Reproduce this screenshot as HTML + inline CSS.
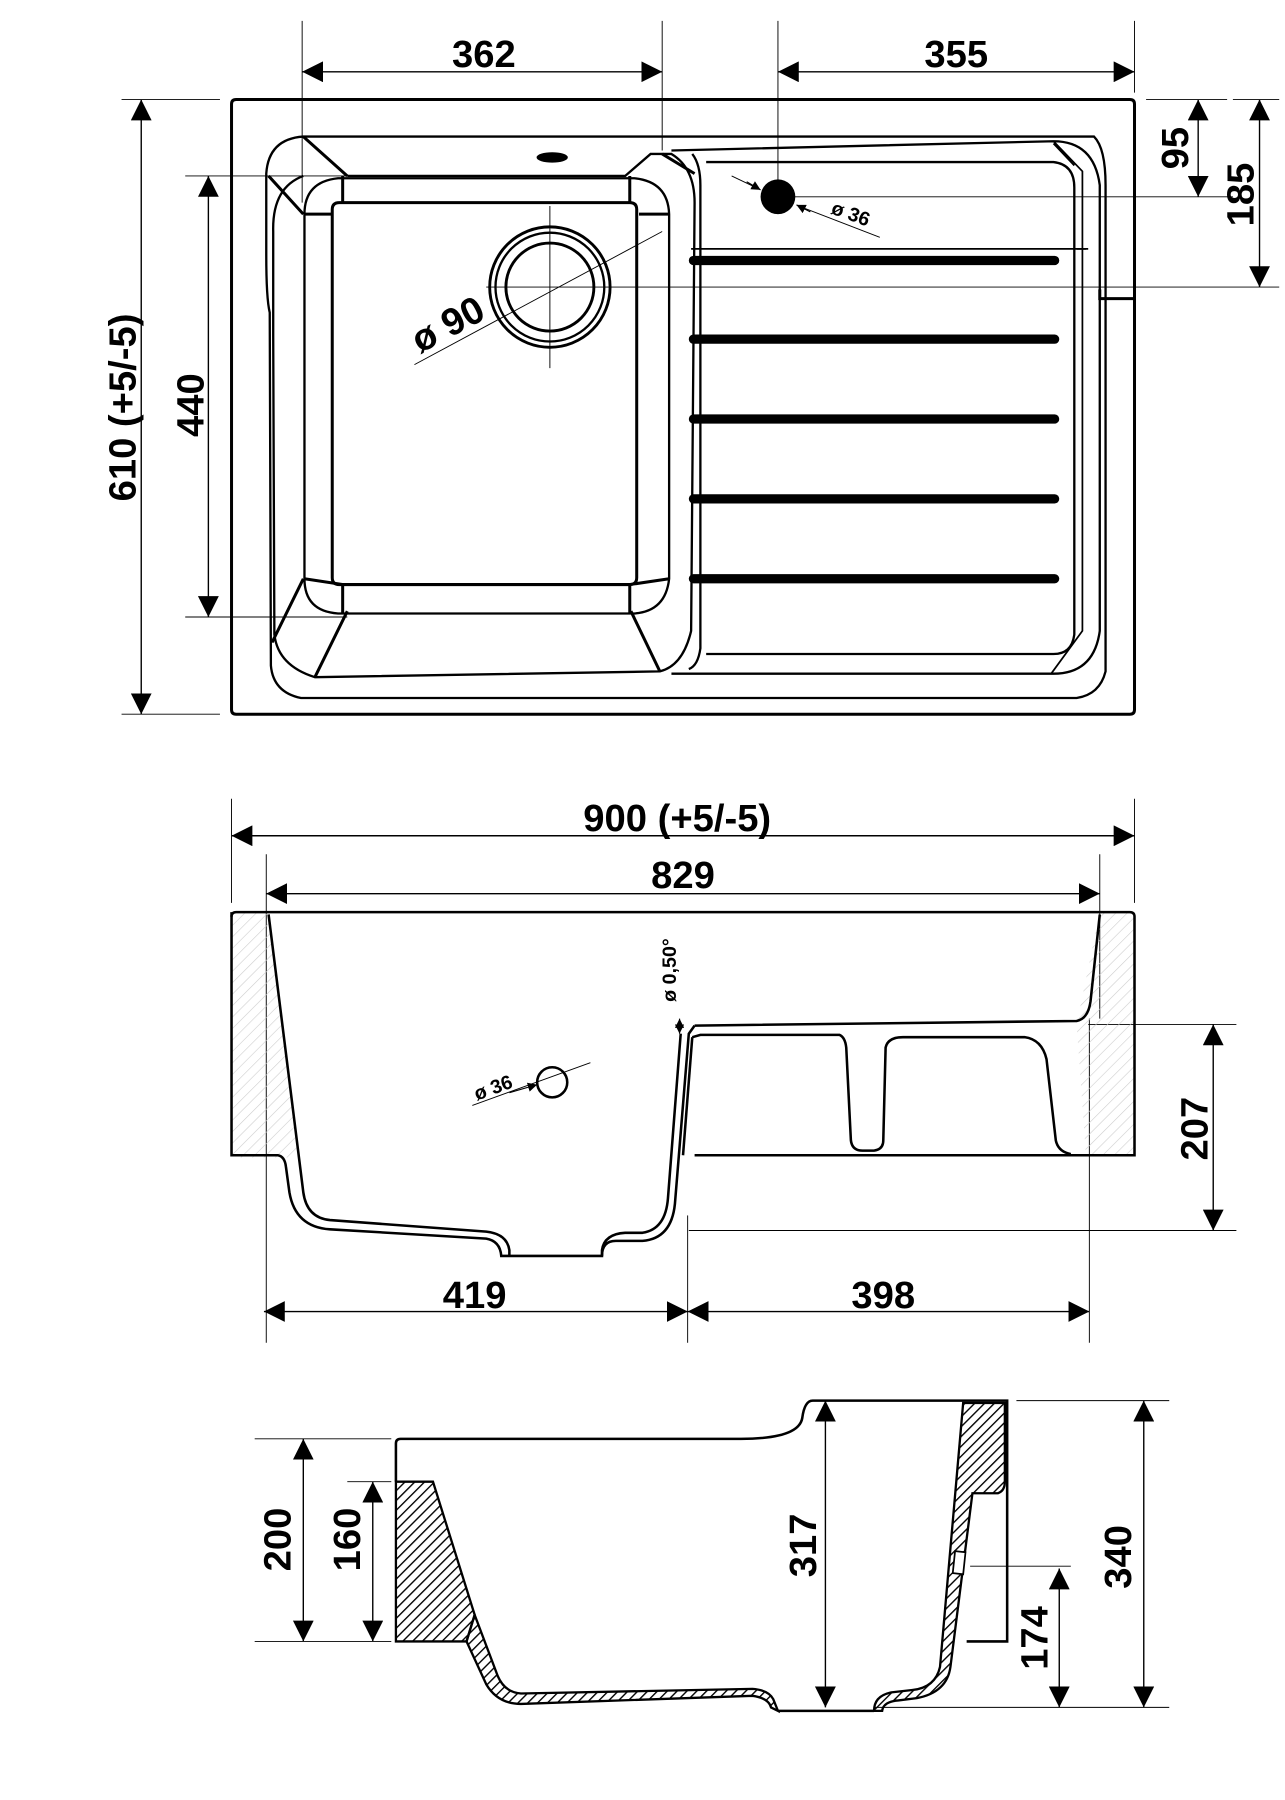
<!DOCTYPE html>
<html><head><meta charset="utf-8"><style>
html,body{margin:0;padding:0;background:#fff;width:1285px;height:1800px;overflow:hidden}
svg{display:block}
text{font-family:"Liberation Sans",sans-serif;font-weight:bold;fill:#000}
</style></head><body>
<svg width="1285" height="1800" viewBox="0 0 1110 1555" preserveAspectRatio="none" xmlns="http://www.w3.org/2000/svg">
<defs>
<marker id="a" viewBox="0 0 10 10" refX="10" refY="5" markerWidth="18" markerHeight="18" markerUnits="userSpaceOnUse" orient="auto-start-reverse"><path d="M0,0 L10,5 L0,10 z" fill="#000"/></marker>
<marker id="s" viewBox="0 0 10 10" refX="10" refY="5" markerWidth="8" markerHeight="8" markerUnits="userSpaceOnUse" orient="auto-start-reverse"><path d="M0,0 L10,5 L0,10 z" fill="#000"/></marker>
<pattern id="h" patternUnits="userSpaceOnUse" width="6" height="6" patternTransform="rotate(45)"><line x1="0" y1="0" x2="0" y2="6" stroke="#000" stroke-width="2.4"/></pattern>
<pattern id="hl" patternUnits="userSpaceOnUse" width="7" height="7" patternTransform="rotate(45)"><line x1="0" y1="0" x2="0" y2="7" stroke="#ccc" stroke-width="1"/></pattern>
</defs>
<g stroke="#000" fill="none">
<!-- ===== TOP VIEW ===== -->
<g stroke-width="0.8">
<line x1="261" y1="18" x2="261" y2="175"/><line x1="572" y1="18" x2="572" y2="130"/>
<line x1="672" y1="18" x2="672" y2="185"/><line x1="980" y1="18" x2="980" y2="80"/>
<line x1="105" y1="86" x2="190" y2="86"/><line x1="105" y1="617" x2="190" y2="617"/>
<line x1="160" y1="152" x2="300" y2="152"/><line x1="160" y1="533" x2="300" y2="533"/>
<line x1="990" y1="86" x2="1060" y2="86"/><line x1="1065" y1="86" x2="1105" y2="86"/>
<line x1="680" y1="170" x2="1065" y2="170"/><line x1="420" y1="248" x2="1105" y2="248"/>
<line x1="475" y1="178" x2="475" y2="318"/>
<line x1="358" y1="315" x2="572" y2="200"/>
<line x1="632" y1="152" x2="655" y2="163"/><line x1="690" y1="178" x2="760" y2="205"/>
</g>
<g stroke-width="1.2" marker-start="url(#a)" marker-end="url(#a)">
<line x1="261" y1="62" x2="572" y2="62"/>
<line x1="672" y1="62" x2="980" y2="62"/>
<line x1="122" y1="86" x2="122" y2="617"/>
<line x1="180" y1="152" x2="180" y2="533"/>
<line x1="1088" y1="86" x2="1088" y2="248"/>
</g>
<line x1="1035" y1="86" x2="1035" y2="170" stroke-width="1.2" marker-start="url(#a)" marker-end="url(#a)"/>
<line x1="645" y1="157" x2="657" y2="164" stroke-width="1" marker-end="url(#s)"/>
<line x1="700" y1="183" x2="688" y2="177" stroke-width="1" marker-end="url(#s)"/>
<g stroke-width="2.6">
<path d="M200,90 Q200,86 204,86 L976,86 Q980,86 980,90 L980,613 Q980,617 976,617 L204,617 Q200,617 200,613 Z"/>
<path d="M950,250 L950,258 L980,258"/>
<path d="M262,118 L945,118 Q955,128 955,160 L955,580 Q950,600 930,603 L260,603 Q236,598 234,575 L233,270 Q230,258 230,220 L230,150 Q232,120 262,118 Z" stroke-width="2"/>
<path d="M262,118 L300,152 M232,152 L262,185 M572,133 L600,150 M235,555 L262,500 M300,528 L272,585 M545,528 L570,580"/>
<path d="M300,152 L540,152 L562,133 L580,133 Q600,145 600,175 L597,545 Q590,575 570,580 L272,585 Q240,575 237,548 L236,290 L236,200 Q235,162 262,152" stroke-width="2"/>
<path d="M263,185 Q263,157 292,154 L548,154 Q577,157 578,185 L578,500 Q575,528 548,530 L292,530 Q263,528 263,500 Z" stroke-width="2"/>
<path d="M296,152 L296,175 M544,152 L544,175 M263,500 L296,505 L296,530 M578,500 L544,505 L544,530 M263,185 L287,185 M578,185 L552,185"/>
<path d="M287,181 Q287,175 293,175 L544,175 Q550,175 550,181 L550,499 Q550,505 544,505 L293,505 Q287,505 287,499 Z"/>
<path d="M580,130 L910,122 Q945,122 950,160 L950,545 Q945,582 910,582 L580,582" stroke-width="2"/>
<path d="M598,133 Q605,142 605,160 L605,560 Q603,575 595,578 M610,140 L910,140 Q928,142 928,162 L928,548 Q926,565 910,565 L610,565" stroke-width="2"/>
<path d="M910,122 L935,148 L935,545 L908,582 M930,215 L940,215 M910,124 L928,143" stroke-width="1.5"/>
<line x1="597" y1="215" x2="938" y2="215" stroke-width="1.5"/>
<circle cx="475" cy="248" r="52" stroke-width="2.5"/>
<circle cx="475" cy="248" r="47" stroke-width="2"/>
<circle cx="475" cy="248" r="38" stroke-width="2.5"/>
</g>
<ellipse cx="477" cy="136" rx="13" ry="4" fill="#000"/>
<circle cx="672" cy="170" r="15" fill="#000" stroke="none"/>
<g stroke-width="8" stroke-linecap="round">
<line x1="599" y1="225" x2="911" y2="225"/><line x1="599" y1="293" x2="911" y2="293"/>
<line x1="599" y1="362" x2="911" y2="362"/><line x1="599" y1="431" x2="911" y2="431"/>
<line x1="599" y1="500" x2="911" y2="500"/>
</g>

<!-- ===== SIDE VIEW ===== -->
<g stroke-width="0.8">
<line x1="200" y1="690" x2="200" y2="780"/><line x1="980" y1="690" x2="980" y2="780"/>
<line x1="230" y1="738" x2="230" y2="1160"/><line x1="950" y1="738" x2="950" y2="880"/>
<line x1="941" y1="880" x2="941" y2="1160"/><line x1="594" y1="1050" x2="594" y2="1160"/>
<line x1="940" y1="885" x2="1068" y2="885"/><line x1="595" y1="1063" x2="1068" y2="1063"/>
<line x1="408" y1="955" x2="510" y2="918"/>
</g>
<g stroke-width="1.2" marker-start="url(#a)" marker-end="url(#a)">
<line x1="200" y1="722" x2="980" y2="722"/>
<line x1="230" y1="772" x2="950" y2="772"/>
<line x1="1048" y1="885" x2="1048" y2="1063"/>
<line x1="228" y1="1133" x2="594" y2="1133"/>
<line x1="594" y1="1133" x2="941" y2="1133"/>
</g>
<line x1="587" y1="880" x2="587" y2="893" stroke-width="1" marker-end="url(#s)" marker-start="url(#s)"/>
<path d="M200,792 Q200,788 204,788 L231,788 L258,1000 L200,1000 Z" fill="url(#hl)" stroke="none"/>
<path d="M950,788 L976,788 Q980,788 980,792 L980,997 L938,997 L930,885 Z" fill="url(#hl)" stroke="none"/>
<g stroke-width="2.2">
<path d="M200,792 Q200,788 204,788 L976,788 Q980,788 980,792 L980,998 L600,998"/>
<path d="M200,788 L200,998 L240,998 Q246,999 247,1008 L250,1030 Q255,1060 285,1062 L420,1070 Q432,1072 433,1085 L520,1085 Q520,1072 532,1072 L555,1072 Q580,1070 583,1040 L595,893 L600,886"/>
<path d="M232,790 L262,1030 Q265,1052 285,1054 L420,1064 Q438,1066 440,1080 L440,1085 M520,1085 L520,1080 Q522,1066 540,1065 L555,1065 Q575,1062 577,1035 L588,893"/>
<path d="M600,886 L930,882 Q940,880 942,865 L950,790"/>
<path d="M598,896 L605,894 L725,894 Q730,896 731,905 L735,985 Q736,994 745,994 L755,994 Q763,993 763,985 L765,905 Q767,896 780,896 L885,896 Q900,898 904,915 L912,985 Q914,995 925,997"/>
<path d="M598,896 L590,998"/>
</g>
<circle cx="477" cy="935" r="13" stroke-width="2.2"/>
<line x1="440" y1="944" x2="464" y2="937" stroke-width="1" marker-end="url(#s)"/>

<!-- ===== SECTION VIEW ===== -->
<g stroke-width="0.8">
<line x1="220" y1="1243" x2="338" y2="1243"/><line x1="220" y1="1418" x2="338" y2="1418"/>
<line x1="300" y1="1280" x2="338" y2="1280"/>
<line x1="878" y1="1210" x2="1010" y2="1210"/><line x1="755" y1="1475" x2="1010" y2="1475"/>
<line x1="838" y1="1353" x2="925" y2="1353"/>
</g>
<g stroke-width="1.2" marker-start="url(#a)" marker-end="url(#a)">
<line x1="262" y1="1243" x2="262" y2="1418"/>
<line x1="322" y1="1280" x2="322" y2="1418"/>
<line x1="713" y1="1210" x2="713" y2="1475"/>
<line x1="988" y1="1210" x2="988" y2="1475"/>
<line x1="915" y1="1355" x2="915" y2="1475"/>
</g>
<path d="M342,1280 L374,1280 L410,1395 L403,1418 L342,1418 Z" fill="url(#h)" stroke-width="2"/>
<path d="M403,1418 L420,1455 Q430,1472 450,1472 L650,1465 Q664,1467 666,1475 L672,1478 L668,1468 Q664,1460 650,1459 L450,1463 Q436,1462 430,1448 L410,1395 Z" fill="url(#h)" stroke-width="2"/>
<path d="M832,1212 L812,1440 Q808,1458 788,1460 L770,1462 Q755,1465 755,1478 L762,1478 Q763,1470 776,1469 L792,1467 Q818,1462 821,1440 L840,1290 L862,1290 Q868,1288 868,1280 L868,1212 Z" fill="url(#h)" stroke-width="2"/>
<path d="M825,1340 L834,1341 L832,1360 L823,1359 Z" fill="#fff" stroke-width="1.5"/>
<g stroke-width="2.2">
<path d="M342,1280 L342,1247 Q342,1243 346,1243 L640,1243 Q690,1243 693,1225 Q695,1210 702,1210 L870,1210 L870,1418 L835,1418"/>
<path d="M672,1478 L755,1478"/>
</g>
</g>

<!-- ===== TEXT ===== -->
<g font-size="33">
<text x="418" y="58" text-anchor="middle">362</text>
<text x="826" y="58" text-anchor="middle">355</text>
<text transform="translate(117 352) rotate(-90)" text-anchor="middle">610  (+5/-5)</text>
<text transform="translate(176 350) rotate(-90)" text-anchor="middle">440</text>
<text transform="translate(1026 128) rotate(-90)" text-anchor="middle">95</text>
<text transform="translate(1083 168) rotate(-90)" text-anchor="middle">185</text>
<text transform="translate(392 290) rotate(-28)" text-anchor="middle">ø 90</text>
<text x="585" y="718" text-anchor="middle">900  (+5/-5)</text>
<text x="590" y="767" text-anchor="middle">829</text>
<text transform="translate(1043 975) rotate(-90)" text-anchor="middle">207</text>
<text x="410" y="1130" text-anchor="middle">419</text>
<text x="763" y="1130" text-anchor="middle">398</text>
<text transform="translate(251 1330) rotate(-90)" text-anchor="middle">200</text>
<text transform="translate(311 1330) rotate(-90)" text-anchor="middle">160</text>
<text transform="translate(705 1335) rotate(-90)" text-anchor="middle">317</text>
<text transform="translate(977 1345) rotate(-90)" text-anchor="middle">340</text>
<text transform="translate(905 1415) rotate(-90)" text-anchor="middle">174</text>
</g>
<g font-size="17">
<text transform="translate(733 190) rotate(20)" text-anchor="middle">ø 36</text>
<text transform="translate(428 945) rotate(-20)" text-anchor="middle">ø 36</text>
<text transform="translate(584 838) rotate(-90)" text-anchor="middle">ø 0,50°</text>
</g>
</svg>
</body></html>
